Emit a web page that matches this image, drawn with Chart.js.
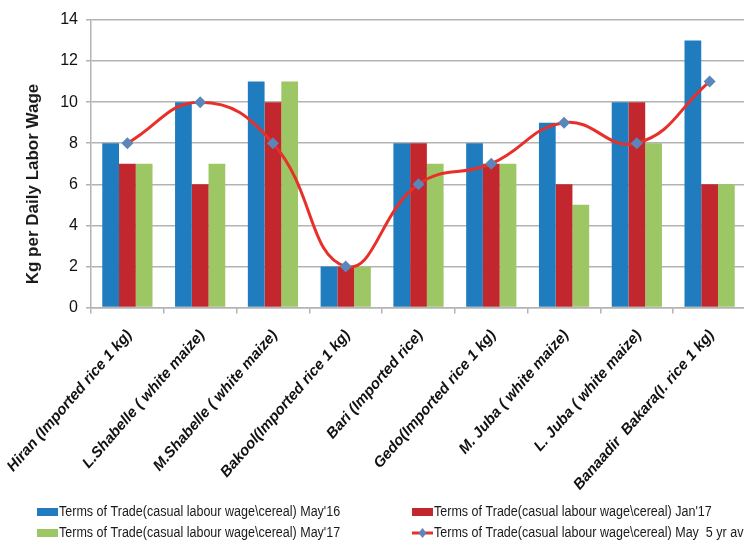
<!DOCTYPE html>
<html>
<head>
<meta charset="utf-8">
<script src="https://cdn.jsdelivr.net/npm/chart.js@4.4.1/dist/chart.umd.min.js"></script>
<style>
html, body { margin: 0; padding: 0; background: #fff; overflow: hidden; }
#wrap { width: 752px; height: 541px; }
</style>
</head>
<body>
<div id="wrap"><canvas id="totChart" width="752" height="541"></canvas></div>
<script>
// Chart data
var regions = ['Hiran (Imported rice 1 kg)', 'L.Shabelle ( white maize)', 'M.Shabelle ( white maize)',
    'Bakool(Imported rice 1 kg)', 'Bari (Imported rice)', 'Gedo(Imported rice 1 kg)',
    'M. Juba ( white maize)', 'L. Juba ( white maize)', 'Banaadir  Bakara(I. rice 1 kg)'];
var may16 = [8, 10, 11, 2, 8, 8, 9, 10, 13];
var jan17 = [7, 6, 10, 2, 8, 7, 6, 10, 6];
var may17 = [7, 7, 11, 2, 7, 7, 5, 8, 6];
var avg5yr = [8, 10, 8, 2, 6, 7, 9, 8, 11];
var yTicks = [0, 2, 4, 6, 8, 10, 12, 14];
var seriesNames = ["Terms of Trade(casual labour wage\\cereal) May'16",
    "Terms of Trade(casual labour wage\\cereal) Jan'17",
    "Terms of Trade(casual labour wage\\cereal) May'17",
    "Terms of Trade(casual labour wage\\cereal) May  5 yr avg"];

var sans = "'Liberation Sans', Arial, sans-serif";

// Legend drawn in two columns like the original (text squeezed a bit, the original font is a narrow one)
var legendPlugin = {
    id: 'twoColLegend',
    afterDraw: function (chart) {
        var ctx = chart.ctx;
        var spots = [[37, 512], [412, 512], [37, 533], [412, 533]];
        ctx.save();
        ctx.font = '14px ' + sans;
        ctx.textBaseline = 'middle';
        ctx.textAlign = 'left';
        chart.data.datasets.forEach(function (ds, i) {
            var x = spots[i][0], y = spots[i][1];
            if (ds.type === 'line') {
                ctx.strokeStyle = ds.borderColor;
                ctx.lineWidth = 3;
                ctx.beginPath();
                ctx.moveTo(x, y);
                ctx.lineTo(x + 21, y);
                ctx.stroke();
                ctx.fillStyle = ds.pointBackgroundColor;
                ctx.beginPath();
                ctx.moveTo(x + 10.5, y - 5);
                ctx.lineTo(x + 14.5, y);
                ctx.lineTo(x + 10.5, y + 5);
                ctx.lineTo(x + 6.5, y);
                ctx.closePath();
                ctx.fill();
            } else {
                ctx.fillStyle = ds.backgroundColor;
                ctx.fillRect(x, y - 4, 21, 8);
            }
            ctx.save();
            ctx.translate(x + 22, y);
            ctx.scale(0.895, 1);
            ctx.fillStyle = '#1a1a1a';
            ctx.fillText(ds.label, 0, 0);
            ctx.restore();
        });
        // y axis title
        ctx.translate(33, 184);
        ctx.rotate(-Math.PI / 2);
        ctx.font = 'bold 17px ' + sans;
        ctx.textAlign = 'center';
        ctx.fillStyle = '#1a1a1a';
        ctx.fillText('Kg per Daily Labor Wage', 0, 0);
        ctx.restore();
    }
};

var ctx = document.getElementById('totChart').getContext('2d');
var totChart = new Chart(ctx, {
    type: 'bar',
    data: {
        labels: regions,
        datasets: [{
            label: seriesNames[0],
            data: may16,
            backgroundColor: '#1f7dbf',
            order: 2
        }, {
            label: seriesNames[1],
            data: jan17,
            backgroundColor: '#c1272d',
            order: 2
        }, {
            label: seriesNames[2],
            data: may17,
            backgroundColor: '#9dc664',
            order: 2
        }, {
            type: 'line',
            label: seriesNames[3],
            data: avg5yr,
            borderColor: '#e8302a',
            borderWidth: 3,
            tension: 0.45,
            pointStyle: 'rectRot',
            pointRadius: 6,
            pointBackgroundColor: '#5b86b9',
            pointBorderColor: '#5b86b9',
            pointBorderWidth: 0,
            order: 1
        }]
    },
    options: {
        responsive: false,
        animation: false,
        layout: { padding: { top: 20, right: 2, left: 0, bottom: 0 } },
        datasets: {
            bar: { barPercentage: 1, categoryPercentage: 0.69 }
        },
        scales: {
            x: {
                afterFit: function (s) {
                    s.height = 233.5;
                    s.paddingLeft = 0;
                    s.paddingRight = 0;
                },
                border: { color: '#b3b3b3', width: 1.5 },
                grid: { drawOnChartArea: false, tickLength: 6, color: '#b3b3b3', lineWidth: 1.5 },
                ticks: {
                    minRotation: 49,
                    maxRotation: 49,
                    autoSkip: false,
                    padding: 13,
                    labelOffset: 2,
                    color: '#111',
                    font: { family: sans, size: 15, weight: 'bold', style: 'italic' }
                }
            },
            y: {
                min: 0,
                max: 14,
                afterFit: function (s) { s.width = 91; },
                afterBuildTicks: function (s) {
                    s.ticks = yTicks.map(function (v) { return { value: v }; });
                },
                border: { color: '#b3b3b3', width: 1.5 },
                grid: { color: '#b3b3b3', lineWidth: 1.5, tickLength: 5 },
                ticks: {
                    padding: 8,
                    color: '#111',
                    font: { family: sans, size: 16 }
                }
            }
        },
        plugins: {
            legend: { display: false },
            tooltip: { enabled: false }
        }
    },
    plugins: [legendPlugin]
});
</script>
</body>
</html>
